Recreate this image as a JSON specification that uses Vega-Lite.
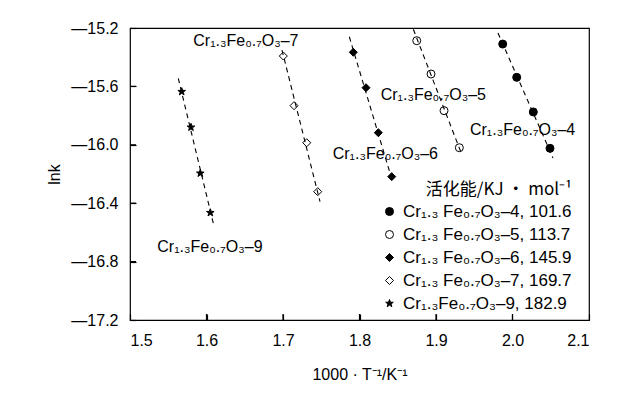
{
  "$schema": "https://vega.github.io/schema/vega-lite/v6.json",
  "width": 459,
  "height": 292,
  "autosize": {"type": "none"},
  "padding": {"left": 130, "top": 28, "right": 37, "bottom": 75},
  "background": "white",
  "config": {
    "view": {"stroke": "black", "strokeWidth": 1.2},
    "font": "Liberation Sans",
    "axis": {
      "grid": false,
      "domain": false,
      "ticks": true,
      "tickColor": "black",
      "tickSize": 6,
      "tickWidth": 1.2,
      "offset": -6,
      "zindex": 2,
      "labelColor": "black",
      "labelFont": "Liberation Sans",
      "labelFontSize": 16,
      "titleColor": "black",
      "titleFont": "Liberation Sans",
      "titleFontSize": 16,
      "titleFontWeight": "normal"
    },
    "legend": {
      "labelFont": "Liberation Sans",
      "labelFontSize": 17,
      "labelLimit": 400,
      "labelColor": "black",
      "titleFont": "Noto Sans CJK SC",
      "titleFontSize": 17,
      "titleFontWeight": "normal",
      "titleColor": "black",
      "titleLimit": 400,
      "titlePadding": 4,
      "symbolStrokeColor": "black",
      "symbolStrokeWidth": 1,
      "symbolSize": 64,
      "rowPadding": 5,
      "labelOffset": 5
    }
  },
  "datasets": {
    "pts": [
      {"s": "Cr₁.₃ Fe₀.₇O₃–4, 101.6", "x": 1.9872, "y": -15.310},
      {"s": "Cr₁.₃ Fe₀.₇O₃–4, 101.6", "x": 2.0055, "y": -15.538},
      {"s": "Cr₁.₃ Fe₀.₇O₃–4, 101.6", "x": 2.0272, "y": -15.775},
      {"s": "Cr₁.₃ Fe₀.₇O₃–4, 101.6", "x": 2.0490, "y": -16.024},
      {"s": "Cr₁.₃ Fe₀.₇O₃–5, 113.7", "x": 1.8748, "y": -15.287},
      {"s": "Cr₁.₃ Fe₀.₇O₃–5, 113.7", "x": 1.8935, "y": -15.515},
      {"s": "Cr₁.₃ Fe₀.₇O₃–5, 113.7", "x": 1.9105, "y": -15.766},
      {"s": "Cr₁.₃ Fe₀.₇O₃–5, 113.7", "x": 1.9305, "y": -16.020},
      {"s": "Cr₁.₃ Fe₀.₇O₃–6, 145.9", "x": 1.7919, "y": -15.366},
      {"s": "Cr₁.₃ Fe₀.₇O₃–6, 145.9", "x": 1.8085, "y": -15.609},
      {"s": "Cr₁.₃ Fe₀.₇O₃–6, 145.9", "x": 1.8246, "y": -15.917},
      {"s": "Cr₁.₃ Fe₀.₇O₃–6, 145.9", "x": 1.8421, "y": -16.218},
      {"s": "Cr₁.₃ Fe₀.₇O₃–7, 169.7", "x": 1.7004, "y": -15.392},
      {"s": "Cr₁.₃ Fe₀.₇O₃–7, 169.7", "x": 1.7144, "y": -15.732},
      {"s": "Cr₁.₃ Fe₀.₇O₃–7, 169.7", "x": 1.7310, "y": -15.986},
      {"s": "Cr₁.₃ Fe₀.₇O₃–7, 169.7", "x": 1.7454, "y": -16.321},
      {"s": "Cr₁.₃Fe₀.₇O₃–9, 182.9", "x": 1.5676, "y": -15.636},
      {"s": "Cr₁.₃Fe₀.₇O₃–9, 182.9", "x": 1.5797, "y": -15.880},
      {"s": "Cr₁.₃Fe₀.₇O₃–9, 182.9", "x": 1.5919, "y": -16.195},
      {"s": "Cr₁.₃Fe₀.₇O₃–9, 182.9", "x": 1.6050, "y": -16.465}
    ],
    "fits": [
      {"s": "4", "x": 1.9810, "y": -15.234},
      {"s": "4", "x": 2.0529, "y": -16.090},
      {"s": "5", "x": 1.8704, "y": -15.209},
      {"s": "5", "x": 1.9340, "y": -16.070},
      {"s": "6", "x": 1.7867, "y": -15.260},
      {"s": "6", "x": 1.8438, "y": -16.262},
      {"s": "7", "x": 1.6987, "y": -15.351},
      {"s": "7", "x": 1.7484, "y": -16.390},
      {"s": "9", "x": 1.5631, "y": -15.545},
      {"s": "9", "x": 1.6089, "y": -16.538}
    ],
    "labels": [
      {"t": "Cr₁.₃Fe₀.₇O₃–4", "x": 1.9444, "y": -15.899},
      {"t": "Cr₁.₃Fe₀.₇O₃–5", "x": 1.8277, "y": -15.659},
      {"t": "Cr₁.₃Fe₀.₇O₃–6", "x": 1.7650, "y": -16.063},
      {"t": "Cr₁.₃Fe₀.₇O₃–7", "x": 1.5827, "y": -15.287},
      {"t": "Cr₁.₃Fe₀.₇O₃–9", "x": 1.5357, "y": -16.698}
    ],
    "yticks": [{"v": -16.8}, {"v": -16.4}, {"v": -16.0}, {"v": -15.6}],
    "xticks": [{"v": 1.6}, {"v": 1.7}, {"v": 1.8}, {"v": 1.9}, {"v": 2.0}]
  },
  "layer": [
    {
      "data": {"name": "fits"},
      "mark": {"type": "line", "stroke": "black", "strokeWidth": 1.1, "strokeDash": [5, 4]},
      "encoding": {
        "x": {
          "field": "x",
          "type": "quantitative",
          "scale": {"domain": [1.5, 2.1], "nice": false, "zero": false},
          "axis": {"values": [1.5, 1.6, 1.7, 1.8, 1.9, 2.0, 2.1], "format": ".1f", "title": "1000 · T⁻¹/K⁻¹", "labelPadding": 12, "titlePadding": 18, "ticks": true, "tickSize": 6, "tickColor": "black"}
        },
        "y": {
          "field": "y",
          "type": "quantitative",
          "scale": {"domain": [-17.2, -15.2], "nice": false, "zero": false},
          "axis": {"values": [-17.2, -16.8, -16.4, -16.0, -15.6, -15.2], "format": ".1f", "labelExpr": "replace(datum.label, '−', '—')", "title": "lnk", "labelPadding": 12, "titlePadding": 8, "ticks": true, "tickSize": 6, "tickColor": "black"}
        },
        "detail": {"field": "s", "type": "nominal"}
      }
    },
    {
      "data": {"name": "yticks"},
      "mark": {"type": "rule", "stroke": "black", "strokeWidth": 1.2},
      "encoding": {
        "x": {"datum": 1.5, "type": "quantitative"},
        "x2": {"datum": 1.5078},
        "y": {"field": "v", "type": "quantitative"}
      }
    },
    {
      "data": {"name": "xticks"},
      "mark": {"type": "rule", "stroke": "black", "strokeWidth": 1.2},
      "encoding": {
        "x": {"field": "v", "type": "quantitative"},
        "y": {"datum": -17.2, "type": "quantitative"},
        "y2": {"datum": -17.159}
      }
    },
    {
      "data": {"name": "pts"},
      "mark": {"type": "point", "filled": true, "stroke": "black", "strokeWidth": 1, "size": 64, "opacity": 1},
      "encoding": {
        "x": {"field": "x", "type": "quantitative"},
        "y": {"field": "y", "type": "quantitative"},
        "shape": {
          "field": "s",
          "type": "nominal",
          "title": "活化能/KJ ・ mol⁻¹",
          "scale": {
            "domain": ["Cr₁.₃ Fe₀.₇O₃–4, 101.6", "Cr₁.₃ Fe₀.₇O₃–5, 113.7", "Cr₁.₃ Fe₀.₇O₃–6, 145.9", "Cr₁.₃ Fe₀.₇O₃–7, 169.7", "Cr₁.₃Fe₀.₇O₃–9, 182.9"],
            "range": ["circle", "circle", "diamond", "diamond", "M0,-1L0.235,-0.324L0.951,-0.309L0.38,0.124L0.588,0.809L0,0.4L-0.588,0.809L-0.38,0.124L-0.951,-0.309L-0.235,-0.324Z"]
          },
          "legend": {"orient": "none", "legendX": 251, "legendY": 154, "titleAnchor": "end"}
        },
        "fill": {
          "field": "s",
          "type": "nominal",
          "title": "活化能/KJ ・ mol⁻¹",
          "scale": {
            "domain": ["Cr₁.₃ Fe₀.₇O₃–4, 101.6", "Cr₁.₃ Fe₀.₇O₃–5, 113.7", "Cr₁.₃ Fe₀.₇O₃–6, 145.9", "Cr₁.₃ Fe₀.₇O₃–7, 169.7", "Cr₁.₃Fe₀.₇O₃–9, 182.9"],
            "range": ["black", "transparent", "black", "transparent", "black"]
          },
          "legend": {"orient": "none", "legendX": 251, "legendY": 154, "titleAnchor": "end"}
        },
        "stroke": {
          "field": "s",
          "type": "nominal",
          "title": "活化能/KJ ・ mol⁻¹",
          "scale": {
            "domain": ["Cr₁.₃ Fe₀.₇O₃–4, 101.6", "Cr₁.₃ Fe₀.₇O₃–5, 113.7", "Cr₁.₃ Fe₀.₇O₃–6, 145.9", "Cr₁.₃ Fe₀.₇O₃–7, 169.7", "Cr₁.₃Fe₀.₇O₃–9, 182.9"],
            "range": ["black", "black", "black", "black", "black"]
          },
          "legend": {"orient": "none", "legendX": 251, "legendY": 154, "titleAnchor": "end"}
        }
      }
    },
    {
      "data": {"name": "labels"},
      "mark": {"type": "text", "align": "left", "baseline": "middle", "fontSize": 16, "font": "Liberation Sans", "color": "black"},
      "encoding": {
        "x": {"field": "x", "type": "quantitative"},
        "y": {"field": "y", "type": "quantitative"},
        "text": {"field": "t", "type": "nominal"}
      }
    }
  ]
}
